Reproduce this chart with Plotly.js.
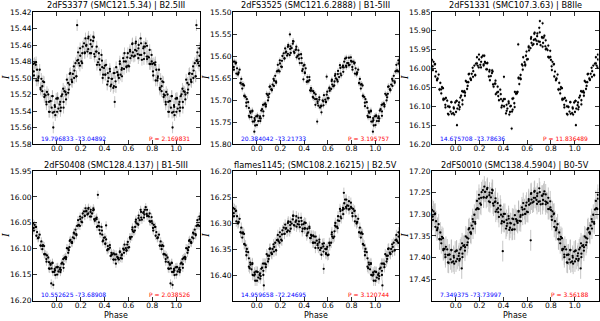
<!DOCTYPE html>
<html><head><meta charset="utf-8">
<script src="https://cdn.plot.ly/plotly-3.0.1.min.js"></script>
<style>html,body{margin:0;padding:0;background:#fff}#chart{width:600px;height:321px}</style>
</head><body><div id="chart"></div>
<script>
const titles = ["2dFS3377 (SMC121.5.34) | B2.5III","2dFS3525 (SMC121.6.2888) | B1-5III","2dFS1331 (SMC107.3.63) | B8IIe",
  "2dFS0408 (SMC128.4.137) | B1-5III","flames1145; (SMC108.2.16215) | B2.5V","2dFS0010 (SMC138.4.5904) | B0-5V"];
const coordText = ["19.796833 -73.04892","20.384042 -73.21733","14.675708 -73.78636","10.552625 -73.68908","14.959658 -72.24695","7.349375 -73.73997"];
const periodText = ["P = 2.169831","P = 3.195757","P = 11.836489","P = 2.038526","P = 3.120744","P = 3.56188"];
const xTicks = [0.0,0.2,0.4,0.6,0.8,1.0];
const yTicks1 = [15.42,15.44,15.46,15.48,15.50,15.52,15.54,15.56,15.58];
const yTicks2 = [15.50,15.55,15.60,15.65,15.70,15.75,15.80];
const yTicks3 = [15.85,15.90,15.95,16.00,16.05,16.10,16.15,16.20];
const yTicks4 = [15.95,16.00,16.05,16.10,16.15,16.20];
const yTicks5 = [16.20,16.25,16.30,16.35,16.40];
const yTicks6 = [17.20,17.25,17.30,17.35,17.40,17.45];
const magErr = [0.007,0.007,0.005,0.008,0.010,0.024];

// observation phases (first and second batch)
const phaseA = [0.002,0.007,0.024,0.030,0.038,0.053,0.056,0.072,0.077,0.094,
0.100,0.108,0.123,0.126,0.142,0.147,0.164,0.170,0.178,0.193,
0.196,0.212,0.217,0.234,0.240,0.248,0.263,0.266,0.282,0.287,
0.304,0.310,0.318,0.333,0.336,0.352,0.357,0.374,0.380,0.388,
0.403,0.406,0.422,0.427,0.444,0.450,0.458,0.473,0.476,0.492,
0.497,0.514,0.520,0.528,0.543,0.546,0.562,0.567,0.584,0.590,
0.598,0.613,0.616,0.632,0.637,0.654,0.660,0.668,0.683,0.686,
0.702,0.707,0.724,0.730,0.738,0.753,0.756,0.772,0.777,0.794,
0.800,0.808,0.823,0.826,0.842,0.847,0.864,0.870,0.878,0.893,
0.896,0.912,0.917,0.934,0.940,0.948,0.963,0.966,0.982,0.987];
const phaseB = [0.006,0.013,0.028,0.034,0.045,0.056,0.063,0.078,0.084,0.095,
0.106,0.113,0.128,0.134,0.145,0.156,0.163,0.178,0.184,0.195,
0.206,0.213,0.228,0.234,0.245,0.256,0.263,0.278,0.284,0.295,
0.306,0.313,0.328,0.334,0.345,0.356,0.363,0.378,0.384,0.395,
0.406,0.413,0.428,0.434,0.445,0.456,0.463,0.478,0.484,0.495,
0.506,0.513,0.528,0.534,0.545,0.556,0.563,0.578,0.584,0.595,
0.606,0.613,0.628,0.634,0.645,0.656,0.663,0.678,0.684,0.695,
0.706,0.713,0.728,0.734,0.745,0.756,0.763,0.778,0.784,0.795,
0.806,0.813,0.828,0.834,0.845,0.856,0.863,0.878,0.884,0.895,
0.906,0.913,0.928,0.934,0.945,0.956,0.963,0.978,0.984,0.995];

const mag1 = [15.541,15.525,15.532,15.540,15.522,15.513,15.529,15.517,15.526,15.506,
15.514,15.495,15.502,15.504,15.486,15.491,15.498,15.479,15.469,15.485,
15.473,15.482,15.462,15.470,15.452,15.460,15.465,15.450,15.459,15.470,
15.455,15.451,15.474,15.468,15.484,15.470,15.484,15.472,15.487,15.496,
15.485,15.496,15.508,15.494,15.489,15.510,15.501,15.512,15.494,15.504,
15.487,15.496,15.500,15.483,15.490,15.498,15.480,15.470,15.487,15.475,
15.485,15.466,15.476,15.459,15.469,15.473,15.458,15.467,15.476,15.460,
15.452,15.472,15.464,15.477,15.462,15.474,15.461,15.475,15.483,15.472,
15.483,15.497,15.484,15.481,15.503,15.498,15.514,15.501,15.516,15.505,
15.520,15.529,15.517,15.529,15.541,15.528,15.522,15.542,15.533,15.545];
const mag1b = [15.524,15.537,15.529,15.536,15.520,15.536,15.516,15.520,15.502,15.518,
15.508,15.494,15.505,15.495,15.500,15.482,15.498,15.478,15.482,15.464,
15.480,15.470,15.458,15.469,15.461,15.468,15.452,15.470,15.454,15.462,
15.450,15.471,15.468,15.462,15.481,15.477,15.490,15.479,15.500,15.488,
15.496,15.484,15.504,15.500,15.492,15.508,15.501,15.510,15.494,15.511,
15.493,15.497,15.480,15.496,15.488,15.476,15.489,15.480,15.486,15.470,
15.486,15.468,15.473,15.458,15.474,15.466,15.456,15.471,15.464,15.472,
15.458,15.478,15.462,15.470,15.458,15.477,15.474,15.466,15.483,15.480,
15.492,15.482,15.503,15.490,15.500,15.490,15.512,15.510,15.504,15.523,
15.521,15.532,15.520,15.541,15.528,15.536,15.522,15.541,15.535,15.525];
const mag2 = [15.757,15.735,15.741,15.748,15.724,15.711,15.726,15.708,15.715,15.689,
15.694,15.670,15.676,15.676,15.652,15.656,15.661,15.635,15.620,15.635,
15.617,15.625,15.600,15.606,15.583,15.590,15.595,15.575,15.584,15.593,
15.572,15.567,15.593,15.585,15.603,15.587,15.606,15.596,15.616,15.630,
15.620,15.639,15.659,15.648,15.648,15.678,15.673,15.693,15.680,15.698,
15.687,15.703,15.713,15.699,15.713,15.728,15.703,15.689,15.705,15.688,
15.696,15.672,15.679,15.657,15.665,15.667,15.645,15.651,15.658,15.634,
15.621,15.640,15.625,15.636,15.613,15.622,15.604,15.616,15.621,15.603,
15.613,15.631,15.617,15.615,15.642,15.637,15.661,15.652,15.674,15.667,
15.690,15.706,15.698,15.718,15.739,15.729,15.724,15.749,15.741,15.758];
const mag2b = [15.737,15.748,15.737,15.742,15.721,15.736,15.710,15.711,15.686,15.701,
15.686,15.669,15.678,15.665,15.668,15.645,15.658,15.634,15.633,15.610,
15.624,15.611,15.594,15.605,15.592,15.599,15.579,15.598,15.578,15.582,
15.566,15.590,15.586,15.579,15.600,15.597,15.616,15.605,15.634,15.622,
15.637,15.628,15.657,15.658,15.655,15.679,15.678,15.695,15.684,15.711,
15.698,15.707,15.694,15.717,15.714,15.701,15.712,15.699,15.704,15.681,
15.696,15.674,15.675,15.654,15.669,15.658,15.641,15.654,15.641,15.648,
15.627,15.644,15.622,15.626,15.606,15.625,15.616,15.604,15.620,15.611,
15.625,15.613,15.640,15.628,15.640,15.631,15.662,15.665,15.664,15.691,
15.693,15.714,15.705,15.736,15.726,15.739,15.726,15.749,15.746,15.737];
const mag3 = [16.115,16.086,16.097,16.108,16.077,16.060,16.084,16.060,16.072,16.036,
16.046,16.015,16.026,16.029,15.998,16.007,16.018,15.987,15.970,15.997,
15.976,15.997,15.970,15.989,15.966,15.985,16.002,15.985,16.008,16.031,
16.012,16.008,16.048,16.040,16.068,16.048,16.073,16.056,16.081,16.098,
16.081,16.100,16.119,16.096,16.087,16.122,16.100,16.114,16.080,16.092,
16.062,16.066,16.062,16.024,16.026,16.028,15.992,15.970,15.992,15.966,
15.976,15.941,15.952,15.921,15.932,15.935,15.908,15.922,15.935,15.907,
15.892,15.929,15.917,15.942,15.918,15.941,15.925,15.951,15.969,15.953,
15.977,16.004,15.989,15.988,16.031,16.026,16.056,16.038,16.066,16.052,
16.080,16.096,16.078,16.100,16.122,16.102,16.089,16.120,16.103,16.122];
const mag3b = [16.086,16.106,16.090,16.102,16.072,16.095,16.062,16.064,16.033,16.054,
16.036,16.014,16.030,16.014,16.022,15.992,16.017,15.986,15.992,15.963,
15.990,15.982,15.966,15.992,15.982,16.002,15.986,16.021,16.004,16.020,
16.005,16.042,16.040,16.032,16.064,16.062,16.084,16.068,16.103,16.086,
16.100,16.081,16.112,16.106,16.092,16.115,16.099,16.109,16.079,16.102,
16.067,16.063,16.026,16.041,16.017,15.989,16.003,15.983,15.989,15.955,
15.975,15.944,15.946,15.917,15.938,15.924,15.905,15.926,15.914,15.928,
15.904,15.938,15.918,15.932,15.913,15.949,15.947,15.939,15.971,15.969,
15.994,15.982,16.021,16.008,16.028,16.016,16.055,16.055,16.049,16.083,
16.081,16.103,16.085,16.120,16.101,16.114,16.089,16.118,16.106,16.090];
const mag4 = [16.150,16.135,16.140,16.145,16.129,16.120,16.130,16.116,16.120,16.100,
16.103,16.085,16.088,16.087,16.069,16.071,16.074,16.056,16.045,16.056,
16.043,16.049,16.032,16.037,16.022,16.027,16.032,16.021,16.029,16.038,
16.026,16.025,16.046,16.043,16.058,16.049,16.064,16.058,16.073,16.084,
16.078,16.091,16.103,16.095,16.093,16.114,16.108,16.121,16.109,16.121,
16.111,16.118,16.121,16.107,16.113,16.119,16.102,16.092,16.104,16.092,
16.098,16.078,16.081,16.063,16.066,16.065,16.048,16.051,16.054,16.036,
16.025,16.040,16.031,16.040,16.025,16.033,16.025,16.038,16.047,16.039,
16.051,16.065,16.058,16.058,16.080,16.078,16.094,16.086,16.101,16.095,
16.110,16.120,16.113,16.126,16.139,16.131,16.127,16.145,16.139,16.151];
const mag4b = [16.136,16.144,16.137,16.141,16.127,16.137,16.118,16.117,16.099,16.108,
16.097,16.083,16.089,16.078,16.080,16.063,16.072,16.055,16.054,16.038,
16.048,16.040,16.028,16.036,16.028,16.034,16.023,16.038,16.025,16.032,
16.022,16.043,16.042,16.040,16.056,16.057,16.071,16.065,16.086,16.079,
16.090,16.082,16.101,16.101,16.098,16.113,16.111,16.121,16.111,16.129,
16.116,16.119,16.105,16.118,16.111,16.100,16.108,16.099,16.103,16.087,
16.097,16.078,16.077,16.059,16.068,16.058,16.044,16.052,16.041,16.045,
16.029,16.044,16.029,16.034,16.020,16.037,16.036,16.032,16.048,16.047,
16.060,16.054,16.075,16.068,16.079,16.073,16.094,16.095,16.093,16.111,
16.111,16.125,16.117,16.138,16.129,16.138,16.128,16.145,16.142,16.136];
const mag5 = [16.411,16.394,16.400,16.407,16.388,16.378,16.392,16.378,16.385,16.363,
16.369,16.350,16.357,16.359,16.341,16.346,16.353,16.333,16.323,16.338,
16.326,16.334,16.314,16.321,16.303,16.310,16.314,16.297,16.304,16.311,
16.293,16.286,16.305,16.295,16.307,16.290,16.303,16.290,16.303,16.311,
16.299,16.311,16.324,16.311,16.307,16.329,16.323,16.338,16.324,16.338,
16.326,16.340,16.348,16.337,16.348,16.361,16.345,16.339,16.358,16.350,
16.362,16.339,16.343,16.322,16.326,16.326,16.305,16.307,16.310,16.287,
16.273,16.288,16.275,16.283,16.262,16.269,16.255,16.267,16.274,16.261,
16.271,16.287,16.277,16.276,16.301,16.298,16.318,16.309,16.328,16.321,
16.340,16.355,16.350,16.368,16.387,16.380,16.377,16.400,16.395,16.411];
const mag5b = [16.394,16.405,16.397,16.402,16.386,16.400,16.378,16.380,16.360,16.374,
16.363,16.349,16.360,16.350,16.355,16.338,16.352,16.332,16.335,16.318,
16.332,16.322,16.309,16.321,16.311,16.317,16.300,16.316,16.298,16.301,
16.286,16.304,16.298,16.287,16.302,16.297,16.308,16.296,16.316,16.302,
16.310,16.300,16.320,16.318,16.310,16.329,16.325,16.338,16.326,16.348,
16.334,16.343,16.332,16.352,16.348,16.340,16.355,16.350,16.360,16.346,
16.361,16.338,16.338,16.318,16.329,16.316,16.300,16.307,16.295,16.296,
16.277,16.291,16.271,16.273,16.255,16.272,16.266,16.258,16.273,16.269,
16.281,16.273,16.297,16.287,16.299,16.292,16.318,16.320,16.318,16.341,
16.343,16.362,16.356,16.384,16.376,16.389,16.379,16.401,16.399,16.393];
const mag6 = [17.409,17.384,17.396,17.407,17.381,17.367,17.391,17.371,17.384,17.354,
17.365,17.335,17.342,17.342,17.311,17.317,17.322,17.289,17.269,17.288,
17.264,17.278,17.249,17.261,17.236,17.248,17.259,17.239,17.256,17.272,
17.251,17.245,17.280,17.270,17.294,17.274,17.295,17.280,17.301,17.316,
17.299,17.317,17.333,17.313,17.304,17.336,17.320,17.336,17.310,17.324,
17.302,17.314,17.320,17.294,17.306,17.316,17.289,17.274,17.299,17.280,
17.294,17.265,17.278,17.253,17.266,17.271,17.248,17.262,17.276,17.252,
17.240,17.270,17.257,17.276,17.253,17.270,17.254,17.274,17.288,17.270,
17.290,17.313,17.300,17.298,17.337,17.331,17.358,17.342,17.367,17.355,
17.380,17.393,17.375,17.394,17.412,17.393,17.382,17.411,17.396,17.414];
const mag6b = [17.384,17.403,17.390,17.403,17.377,17.399,17.373,17.376,17.351,17.371,
17.356,17.332,17.345,17.326,17.333,17.301,17.318,17.287,17.286,17.255,
17.275,17.262,17.244,17.261,17.248,17.262,17.242,17.270,17.250,17.261,
17.243,17.275,17.272,17.263,17.289,17.286,17.306,17.289,17.321,17.305,
17.318,17.299,17.327,17.321,17.310,17.331,17.321,17.335,17.311,17.335,
17.311,17.316,17.292,17.315,17.302,17.284,17.301,17.288,17.299,17.273,
17.295,17.269,17.275,17.251,17.273,17.262,17.246,17.267,17.258,17.271,
17.249,17.277,17.257,17.267,17.247,17.277,17.272,17.262,17.288,17.284,
17.305,17.293,17.329,17.316,17.334,17.323,17.357,17.358,17.352,17.383,
17.380,17.399,17.381,17.411,17.393,17.404,17.383,17.409,17.400,17.386];

// stray measurements
const outPhase1 = [0.17,0.97,0.485],            outMag1 = [15.436,15.560,15.529];
const outPhase2 = [0.28,0.394,0.59,0.51,0.98],  outMag2 = [15.551,15.653,15.647,15.749,15.772];
const outPhase3 = [0.707,0.73,0.405,0.525,0.47,0.01], outMag3 = [15.874,15.880,16.022,15.936,16.159,16.150];
const outPhase4 = [0.344,0.413,0.953,0.97],     outMag4 = [15.996,16.055,16.167,16.170];
const outPhase5 = [0.735,0.565,0.06],           outMag5 = [16.242,16.388,16.420];
const outPhase6 = [0.395,0.05,0.63],            outMag6 = [17.385,17.425,17.360];

const panels = [
  {a: mag1, b: mag1b, oph: outPhase1, om: outMag1, ticks: yTicks1, range: [15.58,15.42]},
  {a: mag2, b: mag2b, oph: outPhase2, om: outMag2, ticks: yTicks2, range: [15.80,15.50]},
  {a: mag3, b: mag3b, oph: outPhase3, om: outMag3, ticks: yTicks3, range: [16.20,15.85]},
  {a: mag4, b: mag4b, oph: outPhase4, om: outMag4, ticks: yTicks4, range: [16.20,15.95]},
  {a: mag5, b: mag5b, oph: outPhase5, om: outMag5, ticks: yTicks5, range: [16.449,16.20]},
  {a: mag6, b: mag6b, oph: outPhase6, om: outMag6, ticks: yTicks6, range: [17.499,17.20]}
];

// fold: repeat the ends of the phase curve outside [0,1]
function wrap(ph, m) {
  const x = [], y = [];
  for (let i = 0; i < ph.length; i++) {
    x.push(ph[i]); y.push(m[i]);
    if (ph[i] >= 0.8) { x.push(ph[i] - 1); y.push(m[i]); }
    if (ph[i] < 0.2) { x.push(ph[i] + 1); y.push(m[i]); }
  }
  return {x, y};
}

const W = 600, H = 321;
const colsPx = [[33,200],[233,399],[432,598.5]];
const rowsPx = [[12,144],[171,300.5]];
const font = 'DejaVu Sans';
const data = [], annotations = [], layout = {
  width: W, height: H, margin: {l:0,r:0,t:0,b:0}, showlegend: false,
  paper_bgcolor: '#fff', plot_bgcolor: '#fff', font: {family: font, size: 7.5, color: '#000'}
};

panels.forEach((p, k) => {
  const r = Math.floor(k / 3), c = k % 3;
  const xa = 'xaxis' + (k ? k + 1 : ''), ya = 'yaxis' + (k ? k + 1 : '');
  const xs = 'x' + (k ? k + 1 : ''), ys = 'y' + (k ? k + 1 : '');
  const w = wrap(phaseA.concat(phaseB, p.oph), p.a.concat(p.b, p.om));
  data.push({
    type: 'scatter', mode: 'markers', x: w.x, y: w.y, xaxis: xs, yaxis: ys,
    marker: {color: '#000', size: 2.3},
    error_y: {type: 'constant', value: magErr[k], color: '#b8b8b8', thickness: 0.8, width: 0},
    hoverinfo: 'skip'
  });
  const common = {showline: true, linecolor: '#000', linewidth: 1, mirror: 'allticks', ticks: 'inside',
    ticklen: 4, tickwidth: 0.8, tickcolor: '#000', showgrid: false, zeroline: false,
    tickfont: {family: font, size: 7.5, color: '#000'}};
  layout[xa] = Object.assign({}, common, {
    domain: [colsPx[c][0]/W, colsPx[c][1]/W], range: [-0.2, 1.2], anchor: ys,
    tickvals: xTicks, ticktext: xTicks.map(v => v.toFixed(1)), ticklabelstandoff: -3
  });
  layout[ya] = Object.assign({}, common, {
    domain: [1 - rowsPx[r][1]/H, 1 - rowsPx[r][0]/H], range: p.range, anchor: xs,
    tickvals: p.ticks, ticktext: p.ticks.map(v => v.toFixed(2)), ticklabelstandoff: -1
  });
  const xc = (colsPx[c][0] + colsPx[c][1]) / 2 / W;
  annotations.push({xref: 'paper', yref: 'paper', x: xc, y: 1 - (rowsPx[r][0] - 6.5)/H, xanchor: 'center', yanchor: 'middle',
    text: titles[k], showarrow: false, font: {family: font, size: 8.2, color: '#000'}});
  annotations.push({xref: xs + ' domain', yref: ys + ' domain', x: 0.035, y: 0.045, xanchor: 'left', yanchor: 'middle',
    text: coordText[k], showarrow: false, font: {family: font, size: 6, color: '#0000ff'}});
  annotations.push({xref: xs + ' domain', yref: ys + ' domain', x: 0.95, y: 0.045, xanchor: 'right', yanchor: 'middle',
    text: periodText[k], showarrow: false, font: {family: font, size: 6, color: '#ff0000'}});
  annotations.push({xref: 'paper', yref: 'paper', x: (colsPx[c][0] - 27)/W, y: 1 - (rowsPx[r][0] + rowsPx[r][1])/2/H,
    xanchor: 'center', yanchor: 'middle', textangle: -90, text: '<i>I</i>', showarrow: false,
    font: {family: 'DejaVu Serif', size: 9, color: '#000'}});
  if (r === 1) {
    annotations.push({xref: 'paper', yref: 'paper', x: xc, y: 0, xanchor: 'center', yanchor: 'bottom', borderpad: 0,
      text: 'Phase', showarrow: false, font: {family: font, size: 8, color: '#000'}});
  }
});
layout.annotations = annotations;
Plotly.newPlot('chart', data, layout, {staticPlot: true, displayModeBar: false});
</script></body></html>
